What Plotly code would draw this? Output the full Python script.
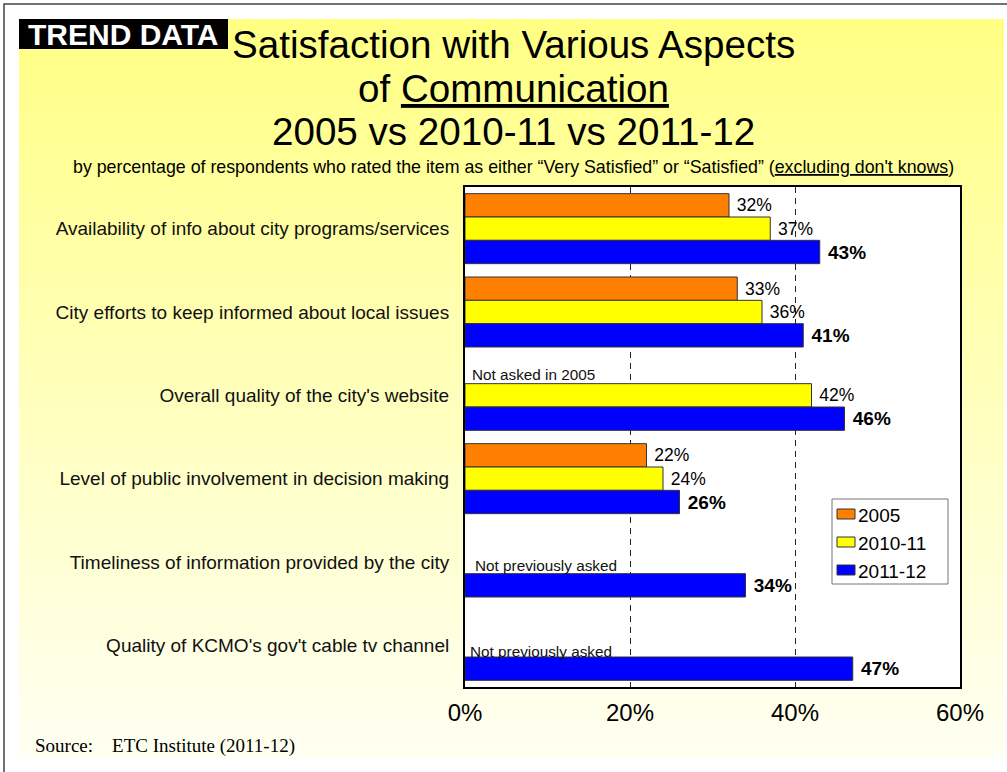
import plotly.graph_objects as go

# ---- data -----------------------------------------------------------------
categories = [
    "Availability of info about city programs/services",
    "City efforts to keep informed about local issues",
    "Overall quality of the city's website",
    "Level of public involvement in decision making",
    "Timeliness of information provided by the city",
    "Quality of KCMO's gov't cable tv channel",
]
years = ["2005", "2010-11", "2011-12"]
pct_2005 = [32, 33, None, 22, None, None]
pct_2010_11 = [37, 36, 42, 24, None, None]
pct_2011_12 = [43, 41, 46, 26, 34, 47]
x_ticks = [0, 20, 40, 60]
x_tick_labels = ["0%", "20%", "40%", "60%"]
notes = ["Not asked in 2005", "Not previously asked", "Not previously asked"]
note_rows = [2, 4, 5]

# ---- styling ----------------------------------------------------------------
W, H = 1007, 772
PL, PR, PT, PB = 465, 960, 187, 687          # plot area, pixels
SANS = "Liberation Sans, Arial, Helvetica, sans-serif"
SERIF = "Liberation Serif, Times New Roman, serif"
bar_colors = ["#FF8000", "#FFFF00", "#0000FF"]
note_shift = [(5, 21), (8, -3), (3, -6)]     # (xshift, yshift) per note


def px(x):
    return (x - PL) / (PR - PL)


def py(y):
    return (PB - y) / (PB - PT)


fig = go.Figure()

series = [pct_2005, pct_2010_11, pct_2011_12]
for i, (name, vals) in enumerate(zip(years, series)):
    bold = i == 2
    fig.add_trace(go.Bar(
        name=name,
        y=categories,
        x=vals,
        orientation="h",
        marker=dict(color=bar_colors[i], line=dict(color="#333333", width=1)),
        text=[None if v is None else f"\u00a0{v}%" for v in vals],
        textposition="outside",
        textfont=dict(family=SANS, size=19 if bold else 17.5, color="black",
                      weight="bold" if bold else "normal"),
        constraintext="none",
        cliponaxis=False,
        showlegend=False,
        hoverinfo="skip",
    ))

shapes = []
# background gradient (light yellow fading to cream)
top_y, bot_y, left_x, right_x = 19, 757, 19, 1004
n = 74
c0, c1 = (255, 255, 132), (255, 255, 242)
step = (bot_y - top_y) / n
for k in range(n):
    t = k / (n - 1)
    col = tuple(round(a + (b - a) * t) for a, b in zip(c0, c1))
    y0 = top_y + k * step
    shapes.append(dict(
        type="rect", xref="paper", yref="paper", layer="below",
        x0=px(left_x), x1=px(right_x), y0=py(y0), y1=py(y0 + step + 0.6),
        fillcolor=f"rgb{col}", line=dict(width=0),
    ))
# white plot area
shapes.append(dict(type="rect", xref="paper", yref="paper", layer="below",
                   x0=0, x1=1, y0=0, y1=1, fillcolor="white", line=dict(width=0)))
# outer frame
shapes.append(dict(type="rect", xref="paper", yref="paper", layer="below",
                   x0=px(4), x1=px(1015), y0=py(4), y1=py(785),
                   fillcolor="rgba(0,0,0,0)", line=dict(color="#444444", width=1.5)))
# TREND DATA tag
shapes.append(dict(type="rect", xref="paper", yref="paper",
                   x0=px(19), x1=px(228), y0=py(19), y1=py(49),
                   fillcolor="black", line=dict(width=0)))

# legend box
shapes.append(dict(type="rect", xref="paper", yref="paper",
                   x0=px(832), x1=px(948), y0=py(499), y1=py(584),
                   fillcolor="white", line=dict(color="#777777", width=1)))
legend_rows = [514, 542, 570]
annotations = []
for name, col, yc in zip(years, bar_colors, legend_rows):
    shapes.append(dict(type="rect", xref="paper", yref="paper",
                       x0=px(837), x1=px(855), y0=py(yc - 5), y1=py(yc + 5),
                       fillcolor=col, line=dict(color="#333333", width=1)))
    annotations.append(dict(text=name, xref="paper", yref="paper",
                            x=px(856), y=py(yc + 1), xanchor="left", yanchor="middle",
                            showarrow=False, font=dict(family=SANS, size=19, color="black")))

# notes for items not asked in earlier years
for (txt, row, (xs, ys)) in zip(notes, note_rows, note_shift):
    annotations.append(dict(text=txt, x=0, y=categories[row], xref="x", yref="y",
                            xanchor="left", yanchor="middle", xshift=xs, yshift=ys,
                            showarrow=False, font=dict(family=SANS, size=15.3, color="#111111")))

# titles
annotations.append(dict(text="<b>TREND DATA</b>", xref="paper", yref="paper",
                        x=px(123.5), y=py(35), xanchor="center", yanchor="middle",
                        showarrow=False, font=dict(family=SANS, size=30, color="white")))
title_lines = [("Satisfaction with Various Aspects", 45),
               ("of <u>Communication</u>", 88),
               ("2005 vs 2010-11 vs 2011-12", 132)]
for txt, yc in title_lines:
    annotations.append(dict(text=txt, xref="paper", yref="paper",
                            x=px(513), y=py(yc), xanchor="center", yanchor="middle",
                            showarrow=False, font=dict(family=SANS, size=38.6, color="black")))
annotations.append(dict(
    text="by percentage of respondents who rated the item as either \u201cVery Satisfied\u201d "
         "or \u201cSatisfied\u201d (<u>excluding don't knows</u>)",
    xref="paper", yref="paper", x=px(513), y=py(167), xanchor="center", yanchor="middle",
    showarrow=False, font=dict(family=SANS, size=17.8, color="black")))
annotations.append(dict(
    text="Source:\u00a0\u00a0\u00a0\u00a0ETC Institute (2011-12)",
    xref="paper", yref="paper", x=px(33), y=py(746), xanchor="left", yanchor="middle",
    showarrow=False, font=dict(family=SERIF, size=19, color="black")))

fig.update_layout(
    width=W, height=H,
    margin=dict(l=PL, r=W - PR, t=PT, b=H - PB, pad=0),
    paper_bgcolor="white",
    plot_bgcolor="white",
    barmode="group",
    bargap=0.16,
    bargroupgap=0,
    showlegend=False,
    shapes=shapes,
    annotations=annotations,
    font=dict(family=SANS, color="black"),
)
fig.update_xaxes(
    range=[0, 60], tickvals=x_ticks, ticktext=x_tick_labels,
    tickfont=dict(family=SANS, size=24, color="black"),
    showgrid=True, gridcolor="#222222", gridwidth=1, griddash="6px,5px",
    showline=True, mirror=True, linecolor="black", linewidth=2,
    zeroline=False, ticks="", ticklabelstandoff=3, fixedrange=True,
)
fig.update_yaxes(
    type="category", autorange="reversed",
    tickfont=dict(family=SANS, size=19, color="#111111"),
    showgrid=False, showline=True, mirror=True, linecolor="black", linewidth=2,
    ticks="", ticklabelstandoff=10, fixedrange=True,
)

fig.write_html("out.html")
